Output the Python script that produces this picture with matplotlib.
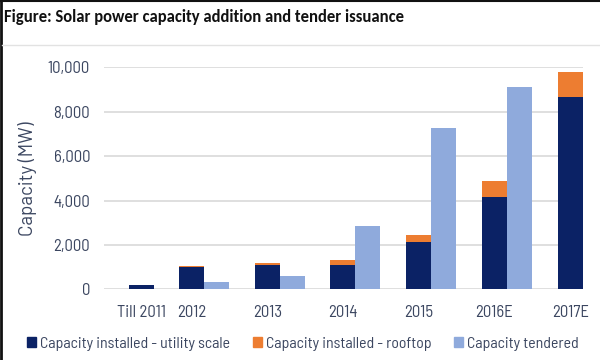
import matplotlib
matplotlib.use("Agg")
import matplotlib.pyplot as plt
import numpy as np
from matplotlib.patches import Rectangle
from matplotlib.lines import Line2D

categories = ["Till 2011", "2012", "2013", "2014", "2015", "2016E", "2017E"]
utility = [180, 1010, 1100, 1100, 2130, 4170, 8650]
rooftop = [0, 20, 100, 200, 300, 700, 1140]
tendered = [0, 310, 600, 2870, 7280, 9130, 0]
series_names = ["Capacity installed - utility scale", "Capacity installed - rooftop", "Capacity tendered"]
yticks = [0, 2000, 4000, 6000, 8000, 10000]

title_font = ["Carlito", "Liberation Sans Narrow", "DejaVu Sans"]
body_font = ["Barlow Semi Condensed", "Roboto Condensed", "Liberation Sans Narrow", "DejaVu Sans"]
label_font = ["Barlow", "Roboto", "DejaVu Sans"]
plt.rcParams["font.family"] = body_font

c_util = "#0b2265"
c_roof = "#ed7d31"
c_tend = "#8faadc"
txt = "#3b4660"

fig = plt.figure(figsize=(6, 3.6), dpi=100)
fig.add_artist(Line2D([0, 1], [0.998, 0.998], color="#111111", lw=1.5, transform=fig.transFigure))
fig.add_artist(Line2D([0.002, 0.002], [0, 1], color="#111111", lw=2, transform=fig.transFigure))
fig.add_artist(Line2D([0.004, 1], [1 - 45 / 360, 1 - 45 / 360], color="#e2e2e2", lw=1, transform=fig.transFigure))
fig.text(4 / 600, 1 - 17 / 360, "Figure: Solar power capacity addition and tender issuance",
         fontsize=12, fontweight="bold", family=title_font, va="center", ha="left", color="#111111")

ax = fig.add_axes([104 / 600, 1 - 289.3 / 360, (583 - 104) / 600, 222 / 360])
x = np.arange(len(categories), dtype=float)
x[0] = x[1] - 0.66  # first group sits closer in the original
w = 0.33
ax.bar(x, utility, width=w, color=c_util, zorder=3)
ax.bar(x, rooftop, width=w, bottom=utility, color=c_roof, zorder=3)
ax.bar(x + w, tendered, width=w, color=c_tend, zorder=3)

ax.set_xlim(-0.156, 6.17)
ax.set_ylim(0, 10000)
ax.set_yticks(yticks)
ax.set_yticklabels([f"{v:,}" for v in yticks])
ax.set_xticks(x)
ax.set_xticklabels(categories)
ax.yaxis.grid(True, color="#d9d9d9", lw=1.2, zorder=0)
ax.set_axisbelow(True)
for s in ax.spines.values():
    s.set_visible(False)
ax.tick_params(length=0, labelsize=12, colors=txt)
ax.tick_params(axis="x", pad=11.5)
ax.tick_params(axis="y", pad=10)
ax.set_ylabel("Capacity (MW)", fontsize=13.5, color=txt, family=label_font)
ax.yaxis.set_label_coords((37 - 104) / 479, 0.5)

handles = [Rectangle((0, 0), 1, 1, color=c) for c in (c_util, c_roof, c_tend)]
leg = fig.legend(handles, series_names, loc="center", bbox_to_anchor=(303 / 600, 1 - 344 / 360),
                 ncol=3, frameon=False, handlelength=0.6, handleheight=0.6, handletextpad=0.25,
                 columnspacing=1.4, prop={"size": 11.4})
for t in leg.get_texts():
    t.set_color(txt)

fig.savefig("out.png", dpi=100, facecolor="white")
